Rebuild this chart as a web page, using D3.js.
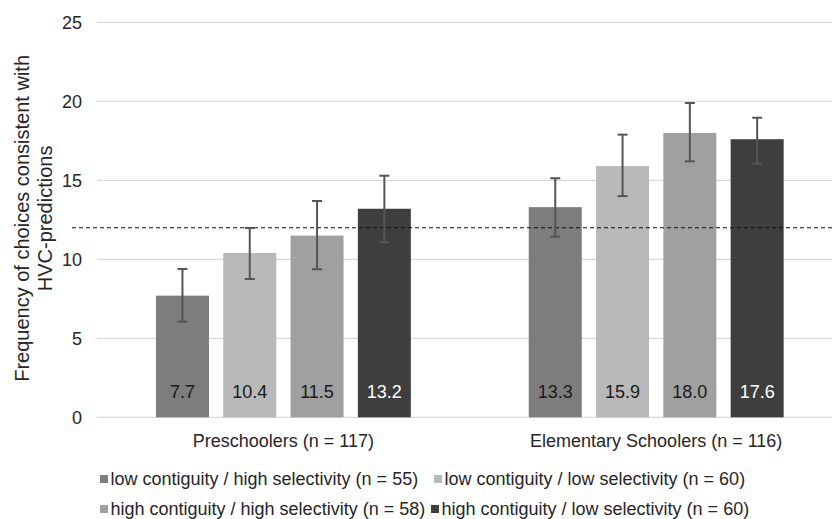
<!DOCTYPE html>
<html><head><meta charset="utf-8">
<script src="https://cdn.jsdelivr.net/npm/d3@7"></script>
<style>html,body{margin:0;padding:0;background:#fff;}svg{display:block;font-family:"Liberation Sans",Arial,sans-serif;}</style>
</head><body><svg id="c" width="832" height="519"></svg>
<script>
const groups = ["Preschoolers (n = 117)", "Elementary Schoolers (n = 116)"];
const seriesNames = [
  "low contiguity / high selectivity (n = 55)",
  "low contiguity / low selectivity (n = 60)",
  "high contiguity / high selectivity (n = 58)",
  "high contiguity / low selectivity (n = 60)"
];
const seriesColors = ["#7d7d7d", "#b9b9b9", "#a0a0a0", "#3e3e3e"];
const labelColors = ["#1a1a1a", "#1a1a1a", "#1a1a1a", "#ffffff"];
const means = [
  [7.7, 10.4, 11.5, 13.2],
  [13.3, 15.9, 18.0, 17.6]
];
const errLow = [
  [6.05, 8.75, 9.37, 11.08],
  [11.43, 14.0, 16.2, 16.05]
];
const errHigh = [
  [9.39, 11.98, 13.69, 15.29],
  [15.13, 17.89, 19.89, 18.96]
];
const yTicks = [0, 5, 10, 15, 20, 25];
const chanceLevel = 12;
const yTitle = ["Frequency of choices consistent with", "HVC-predictions"];

(function () {
const svg = d3.select("#c");
const pLeft = 97, pRight = 842.6, pTop = 22.3, pBottom = 417.3;
const x0 = d3.scaleBand().domain(groups).range([pLeft, pRight]).padding(0);
const y = d3.scaleLinear().domain([0, 25]).range([pBottom, pTop]);
const barW = 53, step = 67.3;
const x1 = d3.scaleBand().domain(d3.range(4)).range([-2*step, 2*step]).padding(0);

// gridlines
svg.append("g").selectAll("line").data(yTicks).join("line")
  .attr("x1", pLeft).attr("x2", 832)
  .attr("y1", d => y(d)).attr("y2", d => y(d))
  .attr("stroke", "#d9d9d9").attr("stroke-width", 1.2);

// y axis labels
const yAxis = d3.axisLeft(y).tickValues(yTicks).tickSize(0).tickPadding(0);
const ya = svg.append("g").attr("transform", `translate(82,0)`).call(yAxis);
ya.select(".domain").remove();
ya.selectAll("text").attr("font-size", 18).attr("fill", "#262626")
  .attr("font-family", "Liberation Sans, Arial, sans-serif");

// y title
const tt = svg.append("text").attr("transform", "translate(0,218.4) rotate(-90)")
  .attr("text-anchor", "middle").attr("font-size", 20).attr("fill", "#262626");
tt.append("tspan").attr("x", 0).attr("y", 29.3).text(yTitle[0]);
tt.append("tspan").attr("x", 0).attr("y", 52.3).text(yTitle[1]);

// bars
const data = [];
groups.forEach((g, gi) => means[gi].forEach((v, si) => data.push({g, gi, si, v, lo: errLow[gi][si], hi: errHigh[gi][si]})));
const cx = d => x0(d.g) + x0.bandwidth()/2 + x1(d.si) + x1.bandwidth()/2;

svg.append("g").selectAll("rect").data(data).join("rect")
  .attr("x", d => cx(d) - barW/2).attr("width", barW)
  .attr("y", d => y(d.v)).attr("height", d => y(0) - y(d.v))
  .attr("fill", d => seriesColors[d.si]);

// dashed chance line
svg.append("line").attr("x1", 72).attr("x2", 832)
  .attr("y1", y(chanceLevel)).attr("y2", y(chanceLevel))
  .attr("stroke", "#111").attr("stroke-width", 1.1).attr("stroke-dasharray", "4,3");

// error bars
const eb = svg.append("g").attr("stroke", "#555").attr("stroke-width", 2);
eb.selectAll(".v").data(data).join("line").attr("class", "v")
  .attr("x1", cx).attr("x2", cx).attr("y1", d => y(d.lo)).attr("y2", d => y(d.hi));
eb.selectAll(".t").data(data).join("line").attr("class", "t")
  .attr("x1", d => cx(d) - 5).attr("x2", d => cx(d) + 5).attr("y1", d => y(d.hi)).attr("y2", d => y(d.hi));
eb.selectAll(".b").data(data).join("line").attr("class", "b")
  .attr("x1", d => cx(d) - 5).attr("x2", d => cx(d) + 5).attr("y1", d => y(d.lo)).attr("y2", d => y(d.lo));

// value labels
svg.append("g").selectAll("text").data(data).join("text")
  .attr("x", cx).attr("y", 398)
  .attr("text-anchor", "middle").attr("font-size", 18)
  .attr("fill", d => labelColors[d.si])
  .text(d => d.v.toFixed(1));

// category labels
const xa = svg.append("g").attr("transform", `translate(0,${pBottom})`)
  .call(d3.axisBottom(x0).tickSize(0).tickPadding(0));
xa.select(".domain").remove();
xa.selectAll("text").attr("font-size", 18).attr("fill", "#262626")
  .attr("font-family", "Liberation Sans, Arial, sans-serif")
  .attr("dy", 0).attr("y", 29.5);

// legend
const legendPos = [
  {x: 100, y: 479}, {x: 434, y: 479},
  {x: 100, y: 509}, {x: 431, y: 509}
];
const lg = svg.append("g");
seriesNames.forEach((n, i) => {
  const p = legendPos[i];
  lg.append("rect").attr("x", p.x).attr("y", p.y - 4).attr("width", 8).attr("height", 8).attr("fill", seriesColors[i]);
  lg.append("text").attr("x", p.x + 10.5).attr("y", p.y + 6.3)
    .attr("font-size", 18).attr("fill", "#262626").text(n);
});
})();
</script></body></html>
